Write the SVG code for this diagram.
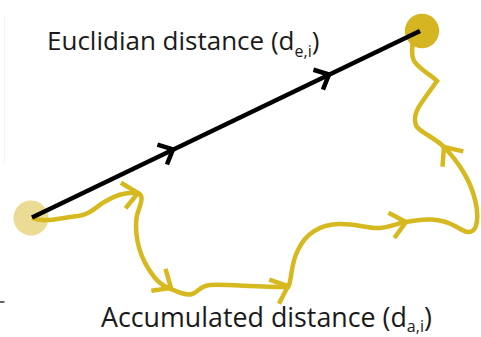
<svg xmlns="http://www.w3.org/2000/svg" width="481" height="337" viewBox="0 0 481 337">
  <style>
    .lbl { font-family: "Open Sans", "Noto Sans", "Liberation Sans", sans-serif; fill: #1a1a1a; }
    .black { fill: none; stroke: #000; stroke-width: 4.5; stroke-linecap: butt; stroke-linejoin: miter; }
    .gold { fill: none; stroke: #d6b81f; stroke-width: 4.5; stroke-linecap: butt; stroke-linejoin: miter; }
  </style>
  <defs>
    <path id="chevB" d="M-12,-11 L0,0 L-12,11"/>
    <path id="chevY" d="M-15,-13 L0,0 L-15,13"/>
  </defs>
  <rect width="481" height="337" fill="#ffffff"/>
  <line x1="4.5" y1="15" x2="4.5" y2="163" stroke="#f3f3f3" stroke-width="1"/>
  <line x1="0" y1="302" x2="4.5" y2="302" stroke="#333" stroke-width="1.5"/>

  <g id="start">
    <circle cx="31" cy="218" r="17.5" fill="#ebdc95"/>
  </g>

  <g id="connectors">
    <g id="accumulated-path">
      <path class="gold" d="M32,218 C45,223 60,218 78,216 C92,214 96,206 106,201 C116,195 126,192 138,193 C145,196 140,205 137,215 C134,232 138,252 148,268 C156,281 162,286 171,289 C178,292 186,296 192,294 C198,292 200,286 210,285 C225,284 255,287 288,287 C292,282 290,265 298,250 C306,233 320,225 338,224 C355,223 368,229 380,228 C392,227 398,223 406,222 C425,218 440,218 455,226 C465,232 472,236 476,226 C480,212 474,190 464,173 C458,163 452,155 444,147 C436,139 426,135 419,129 C413,124 414,114 420,105 C426,96 432,88 437,81 C430,74 420,70 414,61 C411,55 412,48 413,40"/>
      <use href="#chevY" class="gold" transform="translate(138,193) rotate(-10)"/>
      <use href="#chevY" class="gold" transform="translate(171,288) rotate(33)"/>
      <use href="#chevY" class="gold" transform="translate(288,286) rotate(-22)"/>
      <use href="#chevY" class="gold" transform="translate(406,222) rotate(-13)"/>
      <use href="#chevY" class="gold" transform="translate(444,147) rotate(-126.5)"/>
    </g>
  </g>

  <g id="end">
    <circle cx="422" cy="31" r="17.2" fill="#d5b622"/>
  </g>

  <g id="connectors-euclidian">
    <line class="black" x1="32" y1="217.5" x2="420" y2="31"/>
    <use href="#chevB" class="black" transform="translate(173,149.4) rotate(-25.6)"/>
    <use href="#chevB" class="black" transform="translate(329,74.5) rotate(-25.6)"/>
  </g>

  <g id="labels">
    <text class="lbl" x="47" y="49.5" font-size="26">Euclidian distance (d<tspan font-size="16" dy="7">e,i</tspan><tspan dy="-7">)</tspan></text>
    <text class="lbl" x="101" y="327" font-size="26.8">Accumulated distance (d<tspan font-size="16" dy="5">a,i</tspan><tspan dy="-5">)</tspan></text>
  </g>
</svg>
